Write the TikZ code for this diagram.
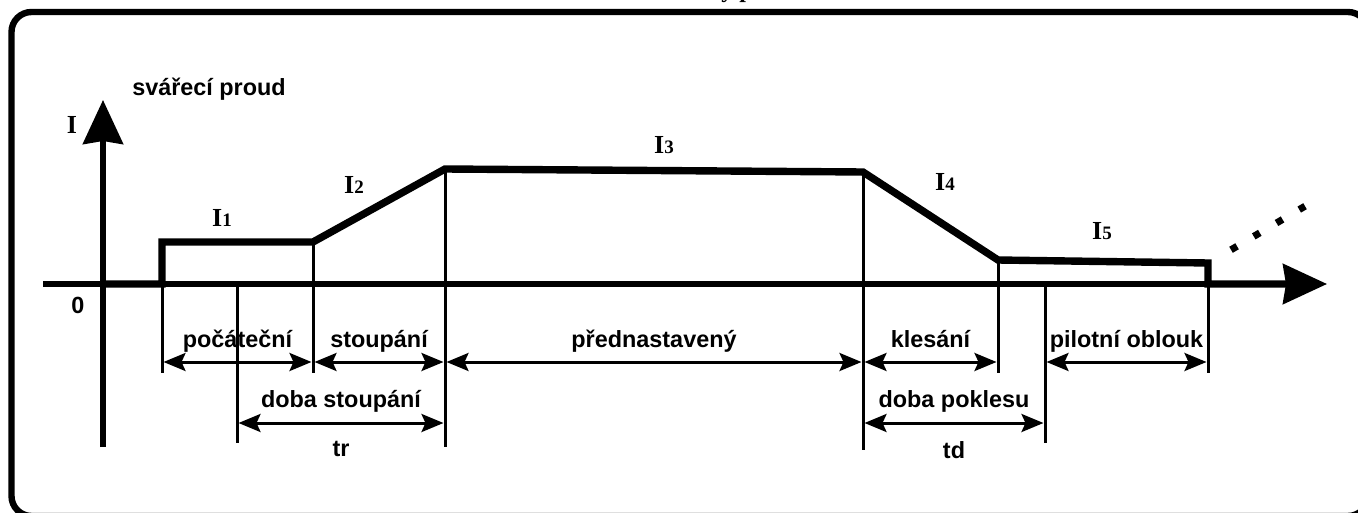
\documentclass[tikz,border=0pt]{standalone}
\usepackage{fontspec}
\setmainfont{Liberation Serif}
\setsansfont{Liberation Sans}
\usetikzlibrary{arrows.meta}
\newcommand\curlab[1]{I{\fontsize{9.5}{11}\selectfont #1}}
\begin{document}
\begin{tikzpicture}[x=0.5pt,y=-0.5pt,
  frame/.style={line width=3.2pt, rounded corners=10pt},
  axis/.style={line width=2.8pt, -{Stealth[length=22pt,width=20pt,inset=1.5pt]}},
  current/.style={line width=3.7pt, line join=miter},
  guide/.style={line width=1.5pt},
  span/.style={line width=1.5pt, shorten >=0.75pt, shorten <=0.75pt,
    {Stealth[length=11pt,width=9pt,inset=2pt]}-{Stealth[length=11pt,width=9pt,inset=2pt]}},
  lab/.style={font=\sffamily\bfseries\fontsize{11.7}{13}\selectfont, anchor=base, inner sep=0pt},
  cur/.style={font=\bfseries\fontsize{13}{15}\selectfont, anchor=base, inner sep=0pt},
]
\useasboundingbox (0,0) rectangle (1358,513);

% outer frame
\coordinate (fa) at (11.5,12);
\coordinate (fb) at (1368,516);
\draw[frame] (fa) rectangle (fb);

% heading (cut by the page edge)
\node[cur, anchor=base west, font=\bfseries\fontsize{12}{14}\selectfont] (title) at (721,-2) {ý p};

% axes
\coordinate (o) at (103,284);
\coordinate (ybot) at (103,447);
\coordinate (ytop) at (103,100);
\coordinate (xl) at (43,284);
\coordinate (xr) at (1327,284);
\draw[axis] (ybot) -- (ytop);
\draw[axis] (xl) -- (xr);

% current waveform
\coordinate (c1) at (162,284);
\coordinate (c2) at (162,242);
\coordinate (c3) at (313,242);
\coordinate (c4) at (445,169);
\coordinate (c5) at (863,172);
\coordinate (c6) at (998,260);
\coordinate (c7) at (1208,263);
\coordinate (c8) at (1208,284);
\coordinate (c9) at (1290,284);
\draw[current] (o) -- (c1) -- (c2) -- (c3) -- (c4) -- (c5) -- (c6) -- (c7) -- (c8) -- (c9);

% continuation dots
\coordinate (d1) at (1231,249.8);
\coordinate (d2) at (1305,206.2);
\draw[line width=3.5pt, dash pattern=on 3.5pt off 9.7pt] (d1) -- (d2);

% vertical guide lines
\coordinate (t237) at (237,284);
\coordinate (t1045) at (1045,284);
\coordinate (b162) at (162,373);
\coordinate (b237) at (237,443);
\coordinate (b313) at (313,373);
\coordinate (b445) at (445,447);
\coordinate (b863) at (863,450);
\coordinate (b998) at (998,373);
\coordinate (b1045) at (1045,443);
\coordinate (b1208) at (1208,373);
\draw[guide] (c2) -- (b162);
\draw[guide] (t237) -- (b237);
\draw[guide] (c3) -- (b313);
\draw[guide] (c4) -- (b445);
\draw[guide] (c5) -- (b863);
\draw[guide] (c6) -- (b998);
\draw[guide] (t1045) -- (b1045);
\draw[guide] (c7) -- (b1208);

% dimension rows
\coordinate (r1) at (0,362);
\coordinate (r2) at (0,423);
\draw[span] (c2|-r1) -- (c3|-r1) node[midway, lab, yshift=7.5pt] (l1) {počáteční};
\draw[span] (c3|-r1) -- (c4|-r1) node[midway, lab, yshift=7.5pt] (l2) {stoupání};
\draw[span] (c4|-r1) -- (c5|-r1) node[midway, lab, yshift=7.5pt] (l3) {přednastavený};
\draw[span] (c5|-r1) -- (c6|-r1) node[midway, lab, yshift=7.5pt] (l4) {klesání};
\draw[span] (t1045|-r1) -- (c7|-r1) node[midway, lab, yshift=7.5pt] (l5) {pilotní oblouk};
\draw[span] (t237|-r2) -- (c4|-r2) node[midway, lab, yshift=8pt] (l6) {doba stoupání}
  node[midway, lab, yshift=-16.5pt] (l7) {tr};
\draw[span] (c5|-r2) -- (t1045|-r2) node[midway, lab, yshift=8pt] (l8) {doba poklesu}
  node[midway, lab, yshift=-17.5pt] (l9) {td};

% axis labels
\node[lab] (ylab) at (209,96) {svářecí proud};
\node[cur] (ysym) at (72,134) {I};
\node[lab] (zero) at (78,313) {0};

% current levels
\node[cur] (i1) at (222,227) {\curlab{1}};
\node[cur] (i2) at (354,194) {\curlab{2}};
\node[cur] (i3) at (664,154) {\curlab{3}};
\node[cur] (i4) at (945,191) {\curlab{4}};
\node[cur] (i5) at (1102,240) {\curlab{5}};
\end{tikzpicture}
\end{document}
